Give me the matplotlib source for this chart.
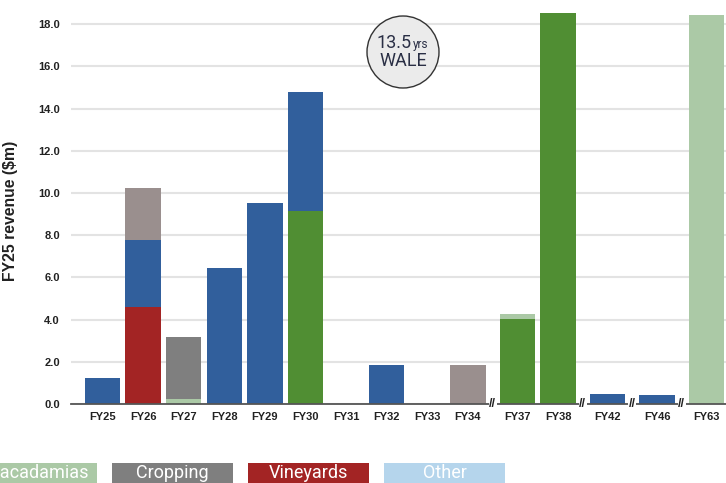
import numpy as np
import matplotlib.pyplot as plt
from matplotlib.patches import Ellipse, Rectangle

# Lease expiry profile - FY25 revenue by sector ($m)
years = ['FY25', 'FY26', 'FY27', 'FY28', 'FY29', 'FY30', 'FY31', 'FY32', 'FY33',
         'FY34', 'FY37', 'FY38', 'FY42', 'FY46', 'FY63']
# axis breaks sit just before these years
breaks_before = ['FY37', 'FY42', 'FY46', 'FY63']

vineyards  = [0, 4.6, 0, 0, 0, 0, 0, 0, 0, 0, 0, 0, 0, 0, 0]
almonds    = [0, 0, 0, 0, 0, 9.15, 0, 0, 0, 0, 4.03, 18.53, 0, 0, 0]
macadamias = [0, 0, 0.22, 0, 0, 0, 0, 0, 0, 0, 0.23, 0, 0, 0, 18.44]
cattle     = [1.22, 3.17, 0, 6.44, 9.52, 5.64, 0, 1.85, 0, 0, 0, 0, 0.47, 0.43, 0]
cropping   = [0, 0, 2.95, 0, 0, 0, 0, 0, 0, 0, 0, 0, 0, 0, 0]
other_land = [0, 2.47, 0, 0, 0, 0, 0, 0, 0, 1.85, 0, 0, 0, 0, 0]

legend_labels = ['Macadamias', 'Cropping', 'Vineyards', 'Other']

colors = {
    'vineyards': '#a32424',
    'almonds': '#508e33',
    'macadamias': '#abc9a6',
    'cattle': '#315f9c',
    'cropping': '#7f7f7f',
    'other_land': '#9a8f8e',
    'other': '#b5d5ec',
}

plt.rcParams['font.family'] = ['Liberation Sans', 'DejaVu Sans']

W, H = 726, 483
UNIT = 40.6  # px per slot
fig = plt.figure(figsize=(W / 100, H / 100), dpi=100)
# axes spills past the right edge like in the original crop
ax = fig.add_axes([71 / W, (H - 404) / H, 680 / W, 404 / H])

# x positions: one slot per year, extra gap at each break
xpos = []
shift = 0.0
for i, y in enumerate(years):
    if y in breaks_before:
        shift += 0.22
    xpos.append(i + shift)
xpos = np.array(xpos)

bottom = np.zeros(len(years))
for name, vals in [('vineyards', vineyards), ('almonds', almonds),
                   ('macadamias', macadamias), ('cattle', cattle),
                   ('cropping', cropping), ('other_land', other_land)]:
    vals = np.array(vals)
    ax.bar(xpos, vals, width=0.87, bottom=bottom, color=colors[name], zorder=3)
    bottom += vals

ax.set_xlim(xpos[0] - 31.5 / UNIT, xpos[0] - 31.5 / UNIT + 680 / UNIT)
ax.set_ylim(0, 19.15)
ax.set_yticks(np.arange(0, 19, 2))
ax.set_yticklabels([f'{v:.1f}' for v in np.arange(0, 19, 2)])
ax.set_xticks(xpos)
ax.set_xticklabels(years)
ax.tick_params(axis='both', length=0, labelsize=8, labelcolor='#222222')
ax.tick_params(axis='x', pad=6)
ax.tick_params(axis='y', pad=8)
for lab in ax.get_xticklabels() + ax.get_yticklabels():
    lab.set_fontweight('bold')

ax.grid(axis='y', color='#e3e3e3', linewidth=1.5, zorder=0)
for s in ['top', 'right', 'left']:
    ax.spines[s].set_visible(False)
ax.spines['bottom'].set_color('#555555')
ax.spines['bottom'].set_linewidth(1.3)
ax.spines['bottom'].set_zorder(4)

ax.set_ylabel('FY25 revenue ($m)', fontsize=11.3, fontweight='bold', color='#222222')
ax.yaxis.set_label_coords((18 - 71) / 680, (404 - 211) / 404)

# break markers on the x axis
for y in breaks_before:
    i = years.index(y)
    xb = (xpos[i] + xpos[i - 1]) / 2
    ax.text(xb, 0, '//', ha='center', va='center', fontsize=9, fontweight='bold',
            color='#222222', zorder=5,
            bbox=dict(facecolor='white', edgecolor='none', pad=0.3))

# WALE badge
cx, cy, r = 403, 52, 36
fig.add_artist(Ellipse((cx / W, 1 - cy / H), 2 * r / W, 2 * r / H, transform=fig.transFigure,
                       facecolor='#ebebeb', edgecolor='#333333', linewidth=1.0, zorder=10))
fig.text(412 / W, 1 - 48 / H, '13.5', ha='right', va='baseline', fontsize=13,
         color='#2a2f45', family='Roboto', zorder=11)
fig.text(413 / W, 1 - 48 / H, 'yrs', ha='left', va='baseline', fontsize=8.5,
         color='#2a2f45', family='Roboto', zorder=11)
fig.text(cx / W + 0.001, 1 - 65.5 / H, 'WALE', ha='center', va='baseline', fontsize=13,
         color='#2a2f45', family='Roboto', zorder=11)

# legend boxes along the bottom (cut off by the frame)
box_left = [-24, 112, 248, 384]
box_colors = [colors['macadamias'], colors['cropping'], colors['vineyards'], colors['other']]
for lab, x0, c in zip(legend_labels, box_left, box_colors):
    fig.add_artist(Rectangle((x0 / W, 1 - 490 / H), 121 / W, 27 / H,
                             transform=fig.transFigure, facecolor=c, edgecolor='none'))
    fig.text((x0 + 60.5) / W, 1 - 478.5 / H, lab, ha='center', va='baseline', fontsize=13,
             color='white', family='Roboto')

fig.savefig('out.png', dpi=100)
